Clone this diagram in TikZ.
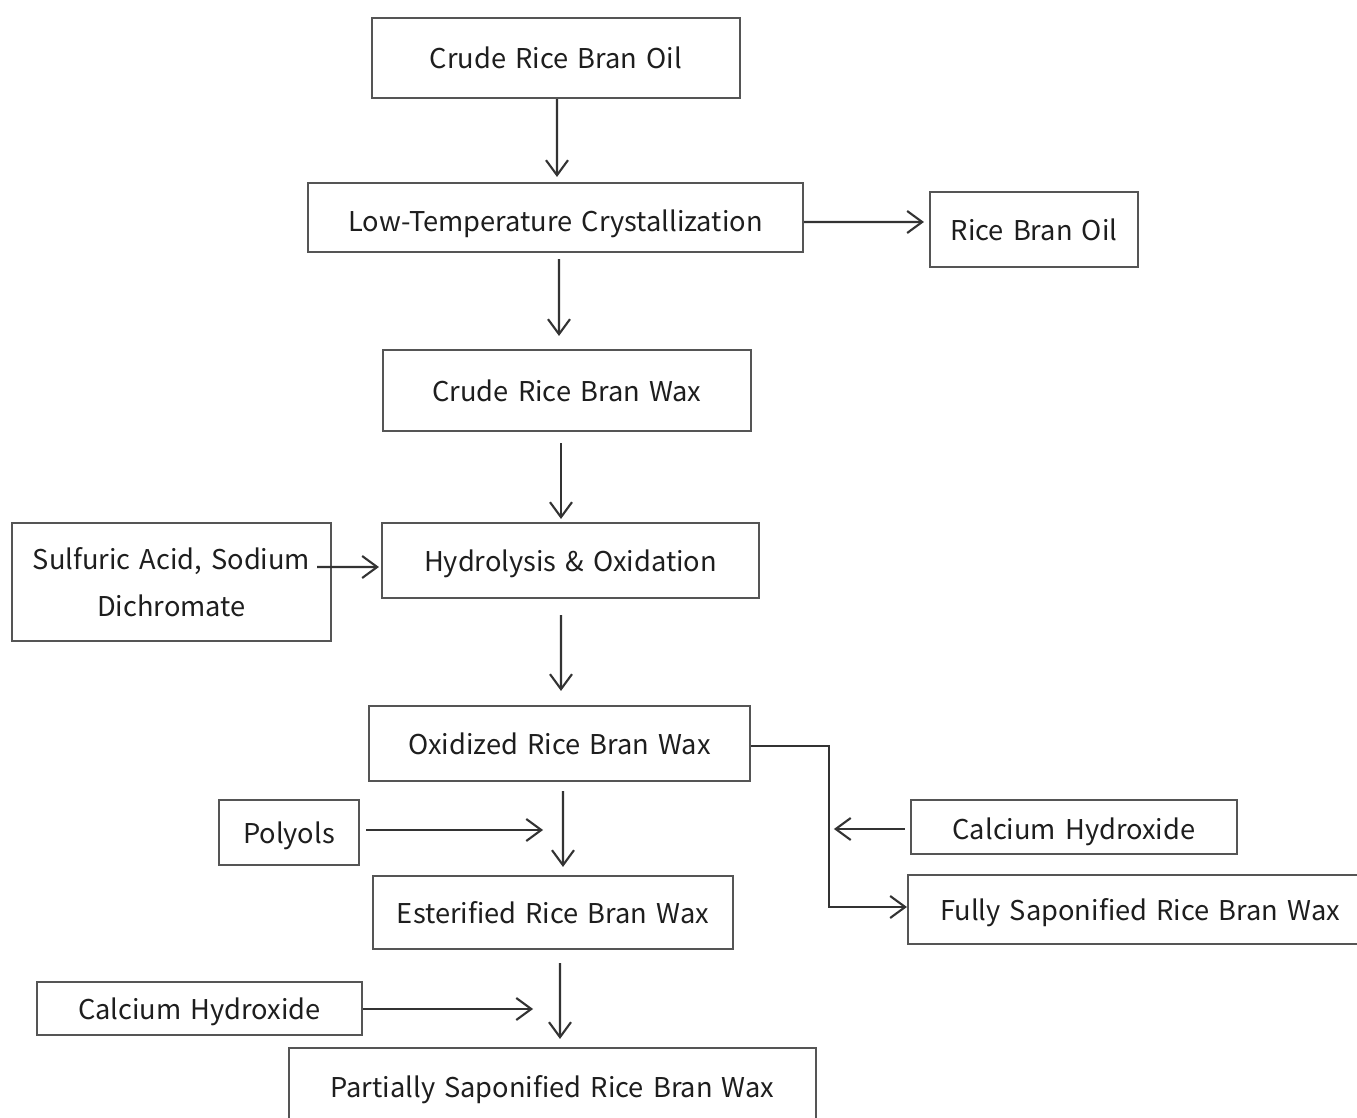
\documentclass[tikz,border=0pt]{standalone}
\usepackage{fontspec}
\setmainfont[WordSpace=1.5]{Noto Sans CJK SC}
\usetikzlibrary{arrows.meta,calc}
\definecolor{boxc}{HTML}{555555}
\definecolor{arrc}{HTML}{333333}
\definecolor{txtc}{HTML}{1E1E1E}
\tikzset{
  box/.style={draw=boxc,line width=1.2pt,rectangle,inner sep=0pt,text=txtc,font=\fontsize{15.5}{19}\selectfont,align=center},
  onel/.style={text height=0.5cm,text depth=0.06cm},
  arr/.style={draw=arrc,line width=1.2pt,-{Straight Barb[length=0.3cm,width=0.44cm,line width=1.2pt]}}
}
\begin{document}
\begin{tikzpicture}[x=0.02cm,y=-0.02cm]
\clip (0,0) rectangle (1357,1118);
\fill[white] (0,0) rectangle (1357,1118);
\node[box,onel,minimum width=368*0.02cm,minimum height=80*0.02cm] (n1) at (556,58) {Crude Rice Bran Oil};
\node[box,onel,text height=0.62cm,minimum width=495*0.02cm,minimum height=69*0.02cm] (n2) at (555.5,217.5) {Low-Temperature Crystallization};
\node[box,onel,minimum width=208*0.02cm,minimum height=75*0.02cm] (n3) at (1034,229.5) {Rice Bran Oil};
\node[box,onel,minimum width=368*0.02cm,minimum height=81*0.02cm] (n4) at (567,390.5) {Crude Rice Bran Wax};
\node[box,minimum width=319*0.02cm,minimum height=118*0.02cm,font=\fontsize{15.5}{26.5}\selectfont] (n5) at (171.5,582) {Sulfuric Acid, Sodium\\Dichromate};
\node[box,onel,minimum width=377*0.02cm,minimum height=75*0.02cm] (n6) at (570.5,560.5) {Hydrolysis \& Oxidation};
\node[box,onel,minimum width=381*0.02cm,minimum height=75*0.02cm] (n7) at (559.5,743.5) {Oxidized Rice Bran Wax};
\node[box,onel,minimum width=140*0.02cm,minimum height=65*0.02cm] (n8) at (289,832.5) {Polyols};
\node[box,onel,minimum width=360*0.02cm,minimum height=73*0.02cm] (n9) at (553,912.5) {Esterified Rice Bran Wax};
\node[box,onel,text height=0.56cm,minimum width=326*0.02cm,minimum height=54*0.02cm] (n10) at (1074,827) {Calcium Hydroxide};
\node[box,onel,minimum width=464*0.02cm,minimum height=69*0.02cm] (n11) at (1140,909.5) {Fully Saponified Rice Bran Wax};
\node[box,onel,minimum width=325*0.02cm,minimum height=53*0.02cm] (n12) at (199.5,1008.5) {Calcium Hydroxide};
\node[box,onel,minimum width=527*0.02cm,minimum height=76*0.02cm] (n13) at (552.5,1086) {Partially Saponified Rice Bran Wax};

\draw[arr] ($(n1.south)+(1,0)$) -- ($(n2.north)+(1.5,-5)$);
\draw[arr] ($(n2.east)+(0,4.5)$) -- ($(n3.west)+(-5,-7.5)$);
\draw[arr] ($(n2.south)+(3.5,6)$) -- ($(n4.north)+(-8,-13)$);
\draw[arr] ($(n4.south)+(-6,11)$) -- ($(n6.north)+(-9.5,-3)$);
\draw[arr] ($(n5.east)+(-15,-15)$) -- ($(n6.west)+(-2,6.5)$);
\draw[arr] ($(n6.south)+(-9.5,16)$) -- ($(n7.north)+(1.5,-14)$);
\draw[arr] ($(n7.east)+(0,2.5)$) -| ($(n11.west)+(-78,-2.5)$) -- ($(n11.west)+(0,-2.5)$);
\draw[arr] ($(n10.west)+(-5,2)$) -- ($(n10.west)+(-76,2)$);
\draw[arr] ($(n8.east)+(6,-2.5)$) -- ($(n8.east)+(183,-2.5)$);
\draw[arr] ($(n7.south)+(3.5,9)$) -- ($(n9.north)+(10,-8)$);
\draw[arr] ($(n9.south)+(7,13)$) -- ($(n13.north)+(7.5,-8)$);
\draw[arr] ($(n12.east)+(0,0.5)$) -- ($(n12.east)+(170,0.5)$);
\end{tikzpicture}
\end{document}
